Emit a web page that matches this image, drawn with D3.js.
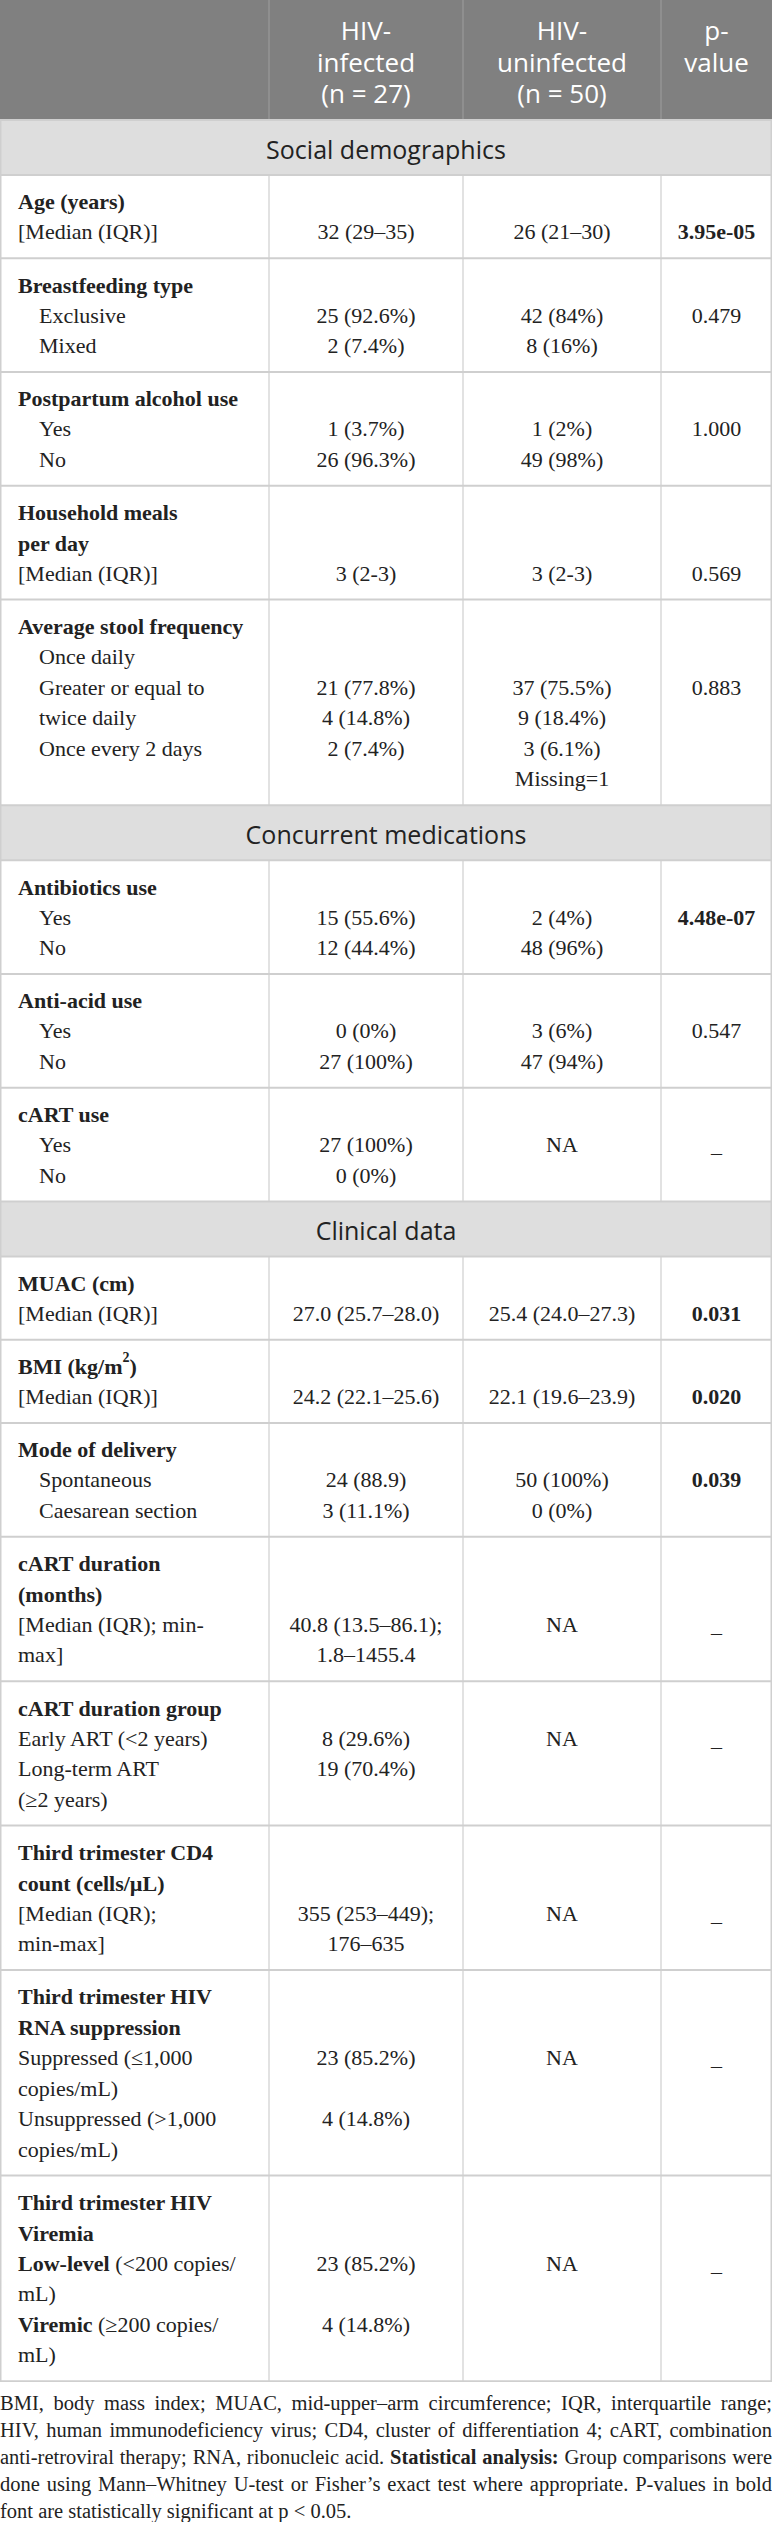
<!DOCTYPE html>
<html>
<head>
<meta charset="utf-8">
<script src="https://cdn.jsdelivr.net/npm/d3@7"></script>
<style>
  body { margin: 0; background: #fff; }
  #note {
    width: 772px;
    margin-top: 8px;
    font-family: "Liberation Serif", serif;
    font-size: 20.5px;
    line-height: 27px;
    color: #222;
    text-align: justify;
  }
</style>
</head>
<body>
<div id="chart"></div>
<div id="note"></div>
<script>
// ---- data ----
const columnKeys = ["label", "inf", "uninf", "p"];
const headerLines = [
  [],
  ["HIV-", "infected", "(n = 27)"],
  ["HIV-", "uninfected", "(n = 50)"],
  ["p-", "value"]
];

// label line kinds: b = bold heading, i = indented, n = plain
const sections = ["Social demographics", "Concurrent medications", "Clinical data"];

const rows = [
  { section: 0, label: [["b", "Age (years)"], ["n", "[Median (IQR)]"]],
    inf: ["", "32 (29–35)"], uninf: ["", "26 (21–30)"], p: ["", "3.95e-05"], sig: true },
  { section: 0, label: [["b", "Breastfeeding type"], ["i", "Exclusive"], ["i", "Mixed"]],
    inf: ["", "25 (92.6%)", "2 (7.4%)"], uninf: ["", "42 (84%)", "8 (16%)"], p: ["", "0.479"] },
  { section: 0, label: [["b", "Postpartum alcohol use"], ["i", "Yes"], ["i", "No"]],
    inf: ["", "1 (3.7%)", "26 (96.3%)"], uninf: ["", "1 (2%)", "49 (98%)"], p: ["", "1.000"] },
  { section: 0, label: [["b", "Household meals"], ["b", "per day"], ["n", "[Median (IQR)]"]],
    inf: ["", "", "3 (2-3)"], uninf: ["", "", "3 (2-3)"], p: ["", "", "0.569"] },
  { section: 0, label: [["b", "Average stool frequency"], ["i", "Once daily"], ["i", "Greater or equal to"],
      ["i", "twice daily"], ["i", "Once every 2 days"], ["n", ""]],
    inf: ["", "", "21 (77.8%)", "4 (14.8%)", "2 (7.4%)"],
    uninf: ["", "", "37 (75.5%)", "9 (18.4%)", "3 (6.1%)", "Missing=1"], p: ["", "", "0.883"] },

  { section: 1, label: [["b", "Antibiotics use"], ["i", "Yes"], ["i", "No"]],
    inf: ["", "15 (55.6%)", "12 (44.4%)"], uninf: ["", "2 (4%)", "48 (96%)"], p: ["", "4.48e-07"], sig: true },
  { section: 1, label: [["b", "Anti-acid use"], ["i", "Yes"], ["i", "No"]],
    inf: ["", "0 (0%)", "27 (100%)"], uninf: ["", "3 (6%)", "47 (94%)"], p: ["", "0.547"] },
  { section: 1, label: [["b", "cART use"], ["i", "Yes"], ["i", "No"]],
    inf: ["", "27 (100%)", "0 (0%)"], uninf: ["", "NA"], p: ["", "–"] },

  { section: 2, label: [["b", "MUAC (cm)"], ["n", "[Median (IQR)]"]],
    inf: ["", "27.0 (25.7–28.0)"], uninf: ["", "25.4 (24.0–27.3)"], p: ["", "0.031"], sig: true },
  { section: 2, label: [["b", "BMI (kg/m", "2", ")"], ["n", "[Median (IQR)]"]],
    inf: ["", "24.2 (22.1–25.6)"], uninf: ["", "22.1 (19.6–23.9)"], p: ["", "0.020"], sig: true },
  { section: 2, label: [["b", "Mode of delivery"], ["i", "Spontaneous"], ["i", "Caesarean section"]],
    inf: ["", "24 (88.9)", "3 (11.1%)"], uninf: ["", "50 (100%)", "0 (0%)"], p: ["", "0.039"], sig: true },
  { section: 2, label: [["b", "cART duration"], ["b", "(months)"], ["n", "[Median (IQR); min-"], ["n", "max]"]],
    inf: ["", "", "40.8 (13.5–86.1);", "1.8–1455.4"], uninf: ["", "", "NA"], p: ["", "", "–"] },
  { section: 2, label: [["b", "cART duration group"], ["n", "Early ART (<2 years)"], ["n", "Long-term ART"], ["n", "(≥2 years)"]],
    inf: ["", "8 (29.6%)", "19 (70.4%)"], uninf: ["", "NA"], p: ["", "–"] },
  { section: 2, label: [["b", "Third trimester CD4"], ["b", "count (cells/µL)"], ["n", "[Median (IQR);"], ["n", "min-max]"]],
    inf: ["", "", "355 (253–449);", "176–635"], uninf: ["", "", "NA"], p: ["", "", "–"] },
  { section: 2, label: [["b", "Third trimester HIV"], ["b", "RNA suppression"], ["n", "Suppressed (≤1,000"],
      ["n", "copies/mL)"], ["n", "Unsuppressed (>1,000"], ["n", "copies/mL)"]],
    inf: ["", "", "23 (85.2%)", "", "4 (14.8%)"], uninf: ["", "", "NA"], p: ["", "", "–"] },
  { section: 2, label: [["b", "Third trimester HIV"], ["b", "Viremia"], ["m", "Low-level", " (<200 copies/"],
      ["n", "mL)"], ["m", "Viremic", " (≥200 copies/"], ["n", "mL)"]],
    inf: ["", "", "23 (85.2%)", "", "4 (14.8%)"], uninf: ["", "", "NA"], p: ["", "", "–"] }
];

const noteText = "BMI, body mass index; MUAC, mid-upper–arm circumference; IQR, interquartile range; HIV, human immunodeficiency virus; CD4, cluster of differentiation 4; cART, combination anti-retroviral therapy; RNA, ribonucleic acid.";
const noteBold = "Statistical analysis:";
const noteRest = "Group comparisons were done using Mann–Whitney U-test or Fisher’s exact test where appropriate. P-values in bold font are statistically significant at p < 0.05.";

// ---- layout ----
const width = 772;
const headerH = 120, sectionH = 55, lineH = 30.6, pad = 11;
const serif = "'Liberation Serif', serif", sans = "'Open Sans', sans-serif";
const borderColor = "#cfcfcf";

const x = d3.scaleOrdinal().domain(columnKeys).range([0, 269, 463, 661]);
const colW = d3.scaleOrdinal().domain(columnKeys).range([269, 194, 198, 111]);
const cx = k => x(k) + colW(k) / 2;

// build block list: section bands + data rows
const blocks = [];
let yPos = headerH;
rows.forEach((r, i) => {
  if (i === 0 || rows[i - 1].section !== r.section) {
    blocks.push({ type: "section", text: sections[r.section], y: yPos, h: sectionH });
    yPos += sectionH;
  }
  const h = r.label.length * lineH + pad * 2;
  blocks.push({ type: "row", row: r, y: yPos, h: h });
  yPos += h;
});
const tableH = yPos;

const svg = d3.select("#chart").append("svg")
  .attr("width", width)
  .attr("height", tableH + 1)
  .style("display", "block");

// header
svg.append("rect").attr("x", 0).attr("y", 0).attr("width", width).attr("height", headerH).attr("fill", "#808080");
svg.selectAll("line.hsep")
  .data(columnKeys.slice(1))
  .join("line")
  .attr("class", "hsep")
  .attr("x1", d => x(d)).attr("x2", d => x(d))
  .attr("y1", 0).attr("y2", headerH)
  .attr("stroke", "#999").attr("stroke-width", 1.2);

const headG = svg.append("g").attr("font-family", sans).attr("font-size", 26).attr("fill", "#fff");
columnKeys.forEach((k, ci) => {
  headG.selectAll(null)
    .data(headerLines[ci])
    .join("text")
    .attr("x", cx(k))
    .attr("y", (d, j) => 30 + j * 31.5)
    .attr("dominant-baseline", "central")
    .attr("text-anchor", "middle")
    .text(d => d);
});

// sections
const secB = svg.selectAll("g.section")
  .data(blocks.filter(b => b.type === "section"))
  .join("g")
  .attr("class", "section");
secB.append("rect")
  .attr("x", 0).attr("y", d => d.y).attr("width", width).attr("height", d => d.h)
  .attr("fill", "#dedede");
secB.append("text")
  .attr("x", width / 2).attr("y", d => d.y + d.h / 2 + 1)
  .attr("dominant-baseline", "central").attr("text-anchor", "middle")
  .attr("font-family", sans).attr("font-size", 25).attr("fill", "#222")
  .text(d => d.text);

// data rows
const rowB = blocks.filter(b => b.type === "row");
const rowG = svg.selectAll("g.row")
  .data(rowB)
  .join("g")
  .attr("class", "row")
  .attr("font-family", serif)
  .attr("font-size", 22)
  .attr("fill", "#222");

// vertical separators inside data rows
rowG.selectAll("line.v")
  .data(d => columnKeys.slice(1).map(k => ({ k, y: d.y, h: d.h })))
  .join("line")
  .attr("class", "v")
  .attr("x1", d => x(d.k)).attr("x2", d => x(d.k))
  .attr("y1", d => d.y).attr("y2", d => d.y + d.h)
  .attr("stroke", borderColor).attr("stroke-width", 1.2);

const lineY = (b, j) => b.y + pad + lineH / 2 + j * lineH;

// label column
rowG.each(function (b) {
  const g = d3.select(this);
  const t = g.selectAll("text.lab")
    .data(b.row.label)
    .join("text")
    .attr("class", "lab")
    .attr("x", d => d[0] === "i" ? 39 : 18)
    .attr("y", (d, j) => lineY(b, j))
    .attr("dominant-baseline", "central");
  t.each(function (d) {
    const el = d3.select(this);
    if (d[0] === "b") {
      el.attr("font-weight", "bold");
      el.append("tspan").text(d[1]);
      if (d.length > 2) {
        el.append("tspan").attr("font-size", 14).attr("dy", -9).text(d[2]);
        el.append("tspan").attr("dy", 9).text(d[3]);
      }
    } else if (d[0] === "m") {
      el.append("tspan").attr("font-weight", "bold").text(d[1]);
      el.append("tspan").text(d[2]);
    } else {
      el.text(d[1]);
    }
  });

  ["inf", "uninf", "p"].forEach(k => {
    g.selectAll("text.v-" + k)
      .data(b.row[k].map((v, j) => ({ v, j })).filter(d => d.v !== ""))
      .join("text")
      .attr("class", "v-" + k)
      .attr("x", cx(k))
      .attr("y", d => lineY(b, d.j) + (d.v === "–" ? 8 : 0))
      .attr("dominant-baseline", "central")
      .attr("text-anchor", "middle")
      .attr("font-weight", k === "p" && b.row.sig ? "bold" : null)
      .text(d => d.v);
  });
});

// horizontal borders
const hLines = blocks.map(b => b.y).concat([tableH]);
svg.selectAll("line.h")
  .data(hLines)
  .join("line")
  .attr("class", "h")
  .attr("x1", 0).attr("x2", width)
  .attr("y1", d => d).attr("y2", d => d)
  .attr("stroke", borderColor).attr("stroke-width", 2);

// outer left/right border
svg.selectAll("line.outer")
  .data([0.75, width - 0.75])
  .join("line")
  .attr("class", "outer")
  .attr("x1", d => d).attr("x2", d => d)
  .attr("y1", headerH).attr("y2", tableH)
  .attr("stroke", borderColor).attr("stroke-width", 1.5);

// footnote
const note = d3.select("#note");
note.append("span").text(noteText + " ");
note.append("b").text(noteBold);
note.append("span").text(" " + noteRest);
</script>
</body>
</html>
